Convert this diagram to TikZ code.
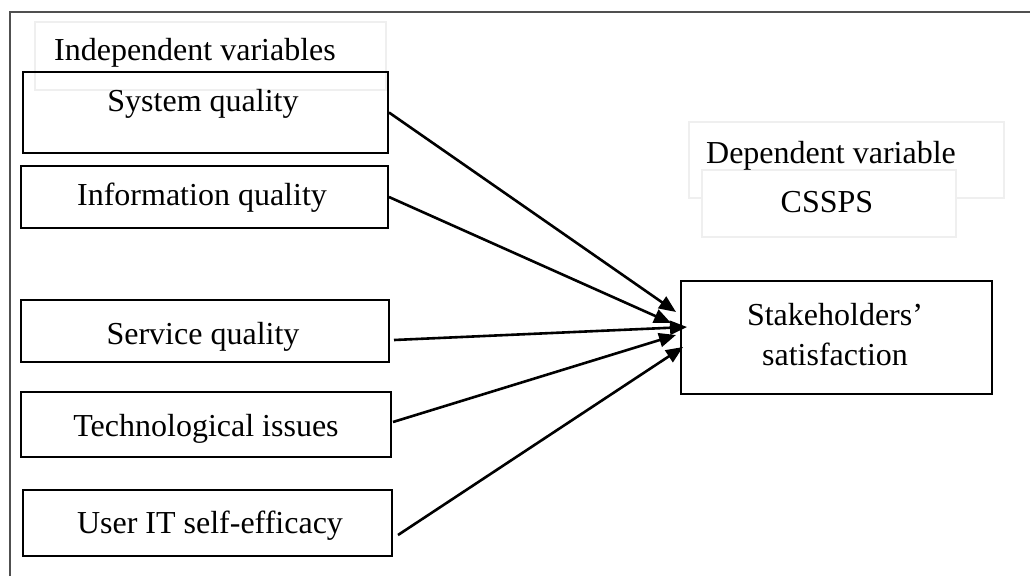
\documentclass[tikz,border=0pt]{standalone}
\usepackage{fontspec}
\setmainfont{Liberation Serif}
\usetikzlibrary{arrows.meta,calc}
\definecolor{framecol}{HTML}{505050}
\definecolor{faintcol}{HTML}{EFEFEF}
\begin{document}
\begin{tikzpicture}[x=1pt,y=-1pt,
  every node/.style={font=\fontsize{32}{38}\selectfont},
  box/.style={draw=black,line width=2pt,inner sep=0pt,rectangle},
  faint/.style={draw=faintcol,line width=1.5pt,inner sep=0pt,rectangle},
  txt/.style={anchor=base,inner sep=0pt},
  arr/.style={line width=2.6pt,-{Triangle[length=17pt,width=14pt]}}]
\useasboundingbox (0,0) rectangle (1030,576);
\fill[white] (0,0) rectangle (1030,576);
\draw[framecol,line width=2pt] (10,576) -- (10,12) -- (1030,12);
% faint title boxes
\node[faint,minimum width=351pt,minimum height=68pt] (indepbox) at (210.5,56) {};
\node[faint,minimum width=315pt,minimum height=76pt] (depbox) at (846.5,160) {};
\node[faint,fill=white,minimum width=254pt,minimum height=67pt] (csspsbox) at (829,203.5) {};
% boxes
\node[box,minimum width=365pt,minimum height=81pt] (sys) at (205.5,112.5) {};
\node[box,minimum width=367pt,minimum height=62pt] (info) at (204.5,197) {};
\node[box,minimum width=368pt,minimum height=62pt] (serv) at (205,331) {};
\node[box,minimum width=370pt,minimum height=65pt] (tech) at (206,424.5) {};
\node[box,minimum width=369pt,minimum height=66pt] (user) at (207.5,523) {};
\node[box,minimum width=311pt,minimum height=113pt] (stake) at (836.5,337.5) {};
% texts
\node[txt] (tindep) at (195,60) {Independent variables};
\node[txt] (tsys) at (203,111) {System quality};
\node[txt] (tinfo) at (202,205) {Information quality};
\node[txt] (tserv) at (203,344) {Service quality};
\node[txt] (ttech) at (206,436) {Technological issues};
\node[txt] (tuser) at (210,533) {User IT self-efficacy};
\node[txt] (tdep) at (831,163) {Dependent variable};
\node[txt] (tcssps) at (827,212) {CSSPS};
\node[txt] (tstake1) at (835,325) {Stakeholders’};
\node[txt] (tstake2) at (835,365) {satisfaction};
% arrows
\draw[arr] (sys.east) -- ($(stake.west)+(-4,-25.5)$);
\draw[arr] (info.east) -- ($(stake.west)+(-9,-14.5)$);
\draw[arr] ($(serv.east)+(4,9)$) -- ($(stake.west)+(7,-10.5)$);
\draw[arr] ($(tech.east)+(1,-2.5)$) -- ($(stake.west)+(-4,-2.5)$);
\draw[arr] ($(user.east)+(5,12)$) -- ($(stake.west)+(3,9.5)$);
\end{tikzpicture}
\end{document}
